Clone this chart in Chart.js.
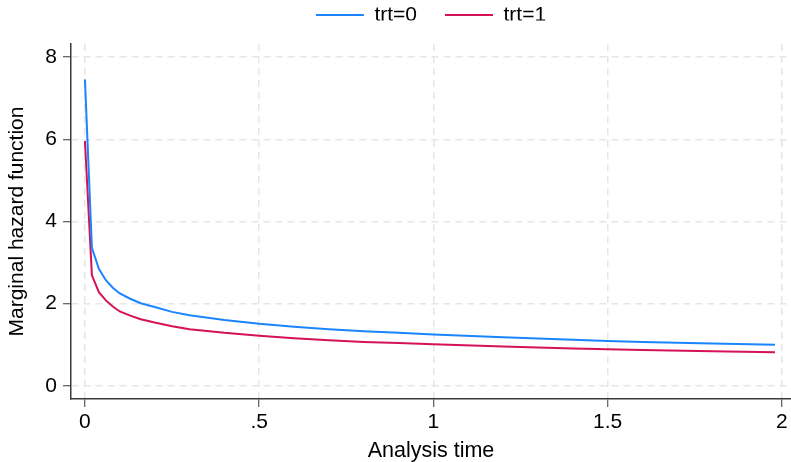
<!DOCTYPE html>
<html>
<head>
<meta charset="utf-8">
<title>Marginal hazard function</title>
<script src="https://cdn.jsdelivr.net/npm/chart.js@4/dist/chart.umd.min.js"></script>
<style>
  html, body { margin: 0; padding: 0; background: #ffffff; }
  #wrap { width: 791px; height: 462px; }
</style>
</head>
<body>
<div id="wrap"><canvas id="hazard" width="791" height="462"></canvas></div>
<script>
// Analysis time at which the marginal hazard is evaluated
const timePoints = [0, 0.02, 0.04, 0.06, 0.08, 0.10, 0.13, 0.16, 0.20, 0.25, 0.30, 0.40,
                    0.50, 0.60, 0.70, 0.80, 0.90, 1.00, 1.20, 1.40, 1.50, 1.60, 1.80, 1.98];

// Marginal hazard, control group (trt=0)
const hazardTrt0 = [7.46, 3.36, 2.85, 2.57, 2.39, 2.25, 2.12, 2.01, 1.92, 1.80, 1.72, 1.60,
                    1.51, 1.44, 1.38, 1.33, 1.29, 1.25, 1.18, 1.12, 1.09, 1.07, 1.03, 1.00];

// Marginal hazard, treated group (trt=1)
const hazardTrt1 = [5.96, 2.69, 2.28, 2.08, 1.93, 1.81, 1.71, 1.62, 1.54, 1.45, 1.38, 1.29,
                    1.22, 1.16, 1.11, 1.07, 1.04, 1.01, 0.96, 0.91, 0.89, 0.87, 0.84, 0.82];

const seriesNames = ['trt=0', 'trt=1'];
const seriesColors = ['#1a85ff', '#d41159'];

const xTickValues = [0, 0.5, 1, 1.5, 2];
const xTickLabels = ['0', '.5', '1', '1.5', '2'];
const yTickValues = [0, 2, 4, 6, 8];
const yTickLabels = ['0', '2', '4', '6', '8'];

const FONT = '"Liberation Sans", Arial, Helvetica, sans-serif';
const GRID_COLOR = '#e6e6e6';
const AXIS_COLOR = '#3a3a3a';
const LEGEND_BAND = 44;      // height reserved above the plot for the key
const LEGEND_ROW_Y = 15;     // vertical centre of the key row
const LEGEND_GAP = 28;       // space between the two key entries
const LEGEND_FONT = 21;

function toPoints(values) {
  return timePoints.map((t, i) => ({ x: t, y: values[i] }));
}

const datasets = [hazardTrt0, hazardTrt1].map((vals, i) => ({
  label: seriesNames[i],
  data: toPoints(vals),
  borderColor: seriesColors[i],
  backgroundColor: seriesColors[i],
  borderWidth: 2,
  pointRadius: 0,
  pointHoverRadius: 0,
  tension: 0,
  fill: false
}));

// Keeps the key in a fixed band above the plot and centres it over the plot area
const legendPlacement = {
  id: 'legendPlacement',
  beforeInit(chart) {
    const legend = chart.legend;
    if (!legend) return;
    const fit = legend.fit;
    legend.fit = function () {
      fit.call(this);
      this.height = LEGEND_BAND;
    };
  },
  afterLayout(chart) {
    const legend = chart.legend;
    if (!legend) return;
    const area = chart.chartArea;
    legend.left = area.left;
    legend.right = area.right;
    legend.width = area.right - area.left;
    legend.top = LEGEND_ROW_Y - LEGEND_GAP - LEGEND_FONT / 2;
    legend.bottom = legend.top + LEGEND_BAND;
  }
};

new Chart(document.getElementById('hazard'), {
  type: 'line',
  data: { datasets },
  plugins: [legendPlacement],
  options: {
    responsive: false,
    animation: false,
    devicePixelRatio: 1,
    layout: { padding: { left: 0, right: 0, top: 0, bottom: 0 } },
    plugins: {
      tooltip: { enabled: false },
      legend: {
        position: 'top',
        align: 'center',
        labels: {
          usePointStyle: true,
          pointStyle: 'line',
          pointStyleWidth: 48,
          color: '#000000',
          padding: LEGEND_GAP,
          font: { family: FONT, size: LEGEND_FONT }
        }
      }
    },
    scales: {
      x: {
        type: 'linear',
        min: -0.04,
        max: 2.026,
        afterBuildTicks: (scale) => { scale.ticks = xTickValues.map(v => ({ value: v })); },
        afterFit: (scale) => { scale.height = 63; },
        ticks: {
          color: '#000000',
          padding: 3,
          maxRotation: 0,
          font: { family: FONT, size: 21 },
          callback: (value) => {
            const i = xTickValues.indexOf(value);
            return i >= 0 ? xTickLabels[i] : '';
          }
        },
        grid: {
          color: GRID_COLOR,
          lineWidth: 1.5,
          tickLength: 8,
          tickColor: AXIS_COLOR,
          tickWidth: 1
        },
        border: { display: true, color: AXIS_COLOR, width: 1.5, dash: [7, 5] },
        title: {
          display: true,
          text: 'Analysis time',
          color: '#000000',
          font: { family: FONT, size: 21.5, lineHeight: 1 },
          padding: { top: 0, bottom: 0 }
        }
      },
      y: {
        type: 'linear',
        min: -0.32,
        max: 8.32,
        afterBuildTicks: (scale) => { scale.ticks = yTickValues.map(v => ({ value: v })); },
        afterFit: (scale) => { scale.width = 71; },
        ticks: {
          color: '#000000',
          padding: 6,
          font: { family: FONT, size: 21 },
          callback: (value) => {
            const i = yTickValues.indexOf(value);
            return i >= 0 ? yTickLabels[i] : '';
          }
        },
        grid: {
          color: GRID_COLOR,
          lineWidth: 1.5,
          tickLength: 8,
          tickColor: AXIS_COLOR,
          tickWidth: 1
        },
        border: { display: true, color: AXIS_COLOR, width: 1.5, dash: [7, 5] },
        title: {
          display: true,
          text: 'Marginal hazard function',
          color: '#000000',
          font: { family: FONT, size: 21, lineHeight: 1.2 },
          padding: { top: 5, bottom: 0 }
        }
      }
    }
  }
});
</script>
</body>
</html>
